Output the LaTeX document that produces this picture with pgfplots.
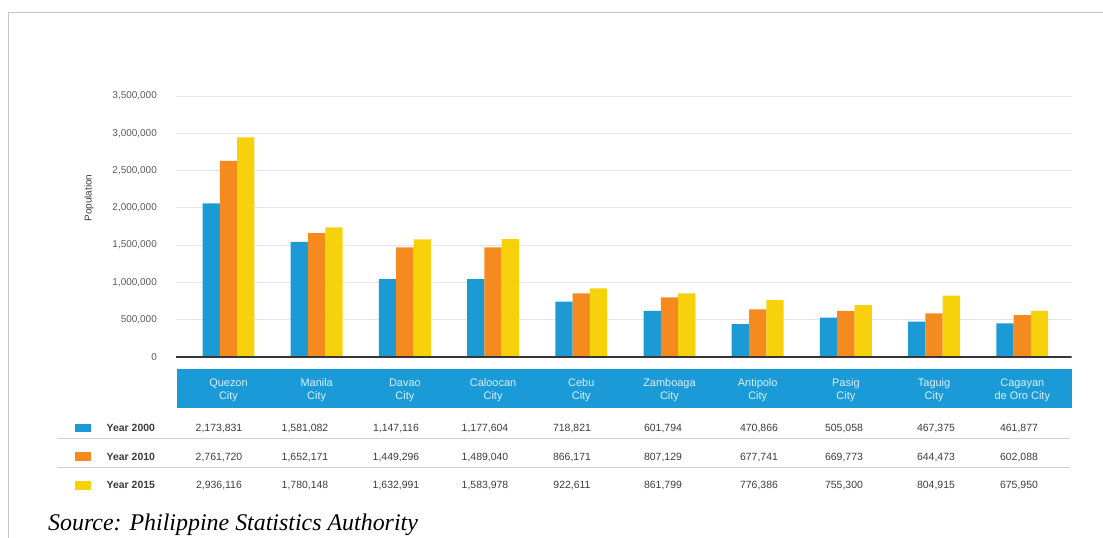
\documentclass[border=0pt]{standalone}
\usepackage{pgfplots}
\pgfplotsset{compat=1.18}
\usepackage{fontspec}
\setmainfont{Liberation Sans}
\newfontfamily\srcfont{Liberation Serif}

\definecolor{bblue}{HTML}{1B9AD6}
\definecolor{oorange}{HTML}{F58A1F}
\definecolor{yyellow}{HTML}{F7D20C}
\definecolor{gridgray}{HTML}{E4E4E4}
\definecolor{tickgray}{HTML}{5A5A5A}
\definecolor{bandblue}{HTML}{1A9BD7}
\definecolor{headtext}{HTML}{DDF0FB}
\definecolor{rulegray}{HTML}{CFCFCF}
\definecolor{framegray}{HTML}{C6C6C6}
\definecolor{txtgray}{HTML}{3C3C3C}
\definecolor{basedark}{HTML}{363636}

\begin{document}
\begin{tikzpicture}
\useasboundingbox (0,0) rectangle (1103bp,-538bp);
\draw[framegray, line width=1bp] (8bp,-538bp) -- (8bp,-12bp) -- (1103bp,-12bp);

\begin{axis}[
    at={(176bp,-357bp)}, anchor=south west,
    scale only axis, width=895.5bp, height=261bp,
    xmin=-0.595, xmax=9.558, ymin=0, ymax=3500000,
    ybar=0pt, bar width=17.3bp,
    axis lines=left, axis line style={draw=none},
    xtick=\empty,
    ytick={0,500000,1000000,1500000,2000000,2500000,3000000,3500000},
    major tick length=0pt,
    ymajorgrids, grid style={gridgray, line width=0.8bp},
    scaled y ticks=false,
    /pgf/number format/fixed, /pgf/number format/precision=0,
    /pgf/number format/1000 sep={,},
    /pgf/number format/assume math mode=true,
    y tick label style={font=\fontsize{10}{12}\selectfont, text=tickgray,
        inner sep=0pt, anchor=east, xshift=-19bp},
    ylabel={Population},
    y label style={at={(axis description cs:-0.0971,0.609)}, anchor=center,
        font=\fontsize{10}{12}\selectfont, text=txtgray},
    legend image code/.code={\fill[#1] (0bp,-4.35bp) rectangle (15.7bp,4.35bp);},
    legend cell align=left,
    legend style={at={(-0.1128,-0.2554)}, anchor=north west, draw=none,
        fill=none, inner sep=0pt, outer sep=0pt, row sep=19.9bp,
        column sep=16bp, text=txtgray,
        font=\fontsize{10.5}{12}\selectfont\bfseries,
        nodes={inner sep=0pt, text height=8.1bp, text depth=0.6bp}},
]

% bar heights as drawn in the picture
\addplot[fill=bblue, draw=none] coordinates {
    (0,2060000) (1,1545000) (2,1045000) (3,1045000) (4,741000)
    (5,620000) (6,442000) (7,527000) (8,473000) (9,450000)};
\addplot[fill=oorange, draw=none] coordinates {
    (0,2630000) (1,1660000) (2,1470000) (3,1470000) (4,854000)
    (5,800000) (6,640000) (7,620000) (8,586000) (9,563000)};
\addplot[fill=yyellow, draw=none] coordinates {
    (0,2945000) (1,1740000) (2,1578000) (3,1580000) (4,921000)
    (5,854000) (6,764000) (7,697000) (8,822000) (9,620000)};
\legend{Year 2000, Year 2010, Year 2015}

\draw[line width=2.2bp, basedark] (rel axis cs:0,0) -- (rel axis cs:1,0);
\pgfplotsinvokeforeach{0,...,9}{\coordinate (c#1) at (axis cs:#1,0);}
\end{axis}

% header band with city names
\fill[bandblue] (176.7bp,-368.7bp) rectangle (1071.7bp,-407.7bp);
\foreach \n [count=\i from 0] in {{Quezon\\City},{Manila\\City},{Davao\\City},
    {Caloocan\\City},{Cebu\\City},{Zamboaga\\City},{Antipolo\\City},
    {Pasig\\City},{Taguig\\City},{Cagayan\\de Oro City}}
  \node[align=center, text=headtext, inner sep=0pt,
        font=\fontsize{11}{13.3}\selectfont] at ([yshift=-33.3bp]c\i) {\n};

% row rules
\draw[rulegray, line width=0.8bp] (56.7bp,-438.3bp) -- (1070bp,-438.3bp);
\draw[rulegray, line width=0.8bp] (56.7bp,-467.3bp) -- (1070bp,-467.3bp);

% table values
\foreach \x/\a/\b/\c in {
    219/{2,173,831}/{2,761,720}/{2,936,116},
    305/{1,581,082}/{1,652,171}/{1,780,148},
    396/{1,147,116}/{1,449,296}/{1,632,991},
    485/{1,177,604}/{1,489,040}/{1,583,978},
    572/{718,821}/{866,171}/{922,611},
    663/{601,794}/{807,129}/{861,799},
    759/{470,866}/{677,741}/{776,386},
    844/{505,058}/{669,773}/{755,300},
    936/{467,375}/{644,473}/{804,915},
    1019/{461,877}/{602,088}/{675,950}} {
  \node[anchor=base, inner sep=0pt, text=txtgray,
        font=\fontsize{10.5}{12}\selectfont] at (\x bp,-431.7bp) {\a};
  \node[anchor=base, inner sep=0pt, text=txtgray,
        font=\fontsize{10.5}{12}\selectfont] at (\x bp,-460.4bp) {\b};
  \node[anchor=base, inner sep=0pt, text=txtgray,
        font=\fontsize{10.5}{12}\selectfont] at (\x bp,-488.7bp) {\c};
}

\node[anchor=base west, inner sep=0pt,
      font=\srcfont\itshape\fontsize{24}{28}\selectfont]
  at (48bp,-530bp) {Source: Philippine Statistics Authority};
\end{tikzpicture}
\end{document}
